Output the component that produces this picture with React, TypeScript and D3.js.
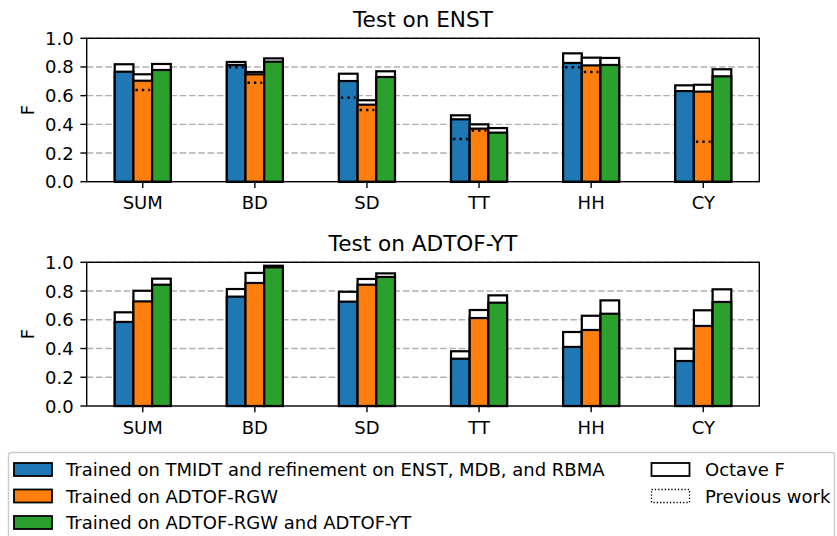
import React from 'react';
import * as d3 from 'd3';

const categories = ['SUM', 'BD', 'SD', 'TT', 'HH', 'CY'];
const seriesNames = [
    'Trained on TMIDT and refinement on ENST, MDB, and RBMA',
    'Trained on ADTOF-RGW',
    'Trained on ADTOF-RGW and ADTOF-YT'
];
const colors = ['#1f77b4', '#ff7f0e', '#2ca02c'];
const yTicks = [0, 0.2, 0.4, 0.6, 0.8, 1.0];

// Test on ENST
const enstF = [
    [0.767, 0.814, 0.702, 0.435, 0.828, 0.632],
    [0.704, 0.749, 0.537, 0.370, 0.811, 0.628],
    [0.779, 0.837, 0.730, 0.342, 0.814, 0.735]
];
const enstOctave = [
    [0.819, 0.835, 0.753, 0.463, 0.895, 0.672],
    [0.749, 0.765, 0.568, 0.400, 0.865, 0.676],
    [0.821, 0.860, 0.770, 0.374, 0.863, 0.784]
];
const enstPrevious = [
    [null, 0.798, 0.586, 0.298, 0.798, null],
    [0.639, 0.690, 0.500, 0.356, 0.765, 0.279],
    [null, null, null, null, null, null]
];

// Test on ADTOF-YT
const ytF = [
    [0.585, 0.761, 0.726, 0.329, 0.411, 0.313],
    [0.728, 0.856, 0.844, 0.612, 0.529, 0.557],
    [0.844, 0.965, 0.898, 0.719, 0.642, 0.724]
];
const ytOctave = [
    [0.652, 0.814, 0.795, 0.381, 0.515, 0.399],
    [0.802, 0.926, 0.884, 0.668, 0.628, 0.666],
    [0.886, 0.976, 0.923, 0.770, 0.735, 0.812]
];
const ytPrevious = [
    [null, null, null, null, null, null],
    [null, null, null, null, null, null],
    [null, null, null, null, null, null]
];

const W = 837;
const H = 536;
const left = 86.7;
const right = 759.3;
const font = 'DejaVu Sans, sans-serif';

type Panel = {
    title: string;
    top: number;
    bottom: number;
    f: number[][];
    octave: number[][];
    previous: (number | null)[][];
};

const panels: Panel[] = [
    { title: 'Test on ENST', top: 38.3, bottom: 181.7, f: enstF, octave: enstOctave, previous: enstPrevious },
    { title: 'Test on ADTOF-YT', top: 262.3, bottom: 406, f: ytF, octave: ytOctave, previous: ytPrevious }
];

function Chart({ p }: { p: Panel }) {
    const x = d3.scaleBand().domain(categories).range([left, right]);
    const y = d3.scaleLinear().domain([0, 1]).range([p.bottom, p.top]);
    const sub = d3
        .scaleBand()
        .domain(d3.range(3).map(String))
        .range([-x.bandwidth() / 4, x.bandwidth() / 4]);
    const bw = sub.bandwidth();

    return (
        <g>
            {yTicks.slice(1).map((t) => (
                <line
                    key={t}
                    x1={left}
                    x2={right}
                    y1={y(t)}
                    y2={y(t)}
                    stroke="#b0b0b0"
                    strokeWidth={1.4}
                    strokeDasharray="6.5,2.8"
                />
            ))}
            {categories.map((c, ci) => {
                const cx = x(c)! + x.bandwidth() / 2;
                return (
                    <g key={c}>
                        {d3.range(3).map((s) => {
                            const bx = cx + sub(String(s))!;
                            const prev = p.previous[s][ci];
                            return (
                                <g key={s}>
                                    <rect
                                        x={bx}
                                        y={y(p.octave[s][ci])}
                                        width={bw}
                                        height={y(0) - y(p.octave[s][ci])}
                                        fill="white"
                                        stroke="black"
                                        strokeWidth={2.2}
                                    />
                                    <rect
                                        x={bx}
                                        y={y(p.f[s][ci])}
                                        width={bw}
                                        height={y(0) - y(p.f[s][ci])}
                                        fill={colors[s]}
                                        stroke="black"
                                        strokeWidth={2.2}
                                    />
                                    {prev !== null && (
                                        <line
                                            x1={bx + 2}
                                            x2={bx + bw - 2}
                                            y1={y(prev)}
                                            y2={y(prev)}
                                            stroke="black"
                                            strokeWidth={2.4}
                                            strokeDasharray="2.4,4"
                                        />
                                    )}
                                </g>
                            );
                        })}
                        <line x1={cx} x2={cx} y1={p.bottom} y2={p.bottom + 6.3} stroke="black" strokeWidth={1.4} />
                        <text
                            x={cx}
                            y={p.bottom + 27.5}
                            textAnchor="middle"
                            fontSize={18}
                            fontFamily={font}
                        >
                            {c}
                        </text>
                    </g>
                );
            })}
            {yTicks.map((t) => (
                <g key={t}>
                    <line x1={left - 6.3} x2={left} y1={y(t)} y2={y(t)} stroke="black" strokeWidth={1.4} />
                    <text
                        x={left - 13}
                        y={y(t)}
                        textAnchor="end"
                        dominantBaseline="central"
                        fontSize={18}
                        fontFamily={font}
                    >
                        {d3.format('.1f')(t)}
                    </text>
                </g>
            ))}
            <rect
                x={left}
                y={p.top}
                width={right - left}
                height={p.bottom - p.top}
                fill="none"
                stroke="black"
                strokeWidth={1.4}
            />
            <text
                transform={`translate(27,${(p.top + p.bottom) / 2}) rotate(-90)`}
                textAnchor="middle"
                dominantBaseline="central"
                fontSize={18}
                fontFamily={font}
            >
                F
            </text>
            <text
                x={(left + right) / 2}
                y={p.top - 11}
                textAnchor="middle"
                fontSize={21.6}
                fontFamily={font}
            >
                {p.title}
            </text>
        </g>
    );
}

function Legend() {
    const rows = [469.5, 496, 522.5];
    return (
        <g fontFamily={font} fontSize={18}>
            <rect x={8.5} y={452.5} width={826} height={110} rx={3} fill="white" stroke="#cccccc" strokeWidth={1.4} />
            {seriesNames.map((n, i) => (
                <g key={n}>
                    <rect x={14} y={rows[i] - 6.5} width={38} height={13} fill={colors[i]} stroke="black" strokeWidth={1.8} />
                    <text x={66} y={rows[i]} dominantBaseline="central">
                        {n}
                    </text>
                </g>
            ))}
            <rect x={651.5} y={rows[0] - 6.5} width={38} height={13} fill="white" stroke="black" strokeWidth={1.8} />
            <text x={705} y={rows[0]} dominantBaseline="central">
                Octave F
            </text>
            <rect
                x={651.5}
                y={rows[1] - 6.5}
                width={38}
                height={13}
                fill="none"
                stroke="black"
                strokeWidth={1.3}
                strokeDasharray="1.3,2"
            />
            <text x={705} y={rows[1]} dominantBaseline="central">
                Previous work
            </text>
        </g>
    );
}

export default function App() {
    return (
        <svg
            width={W}
            height={H}
            style={{ position: 'absolute', left: 0, top: 0, background: 'white' }}
        >
            {panels.map((p) => (
                <Chart key={p.title} p={p} />
            ))}
            <Legend />
        </svg>
    );
}
